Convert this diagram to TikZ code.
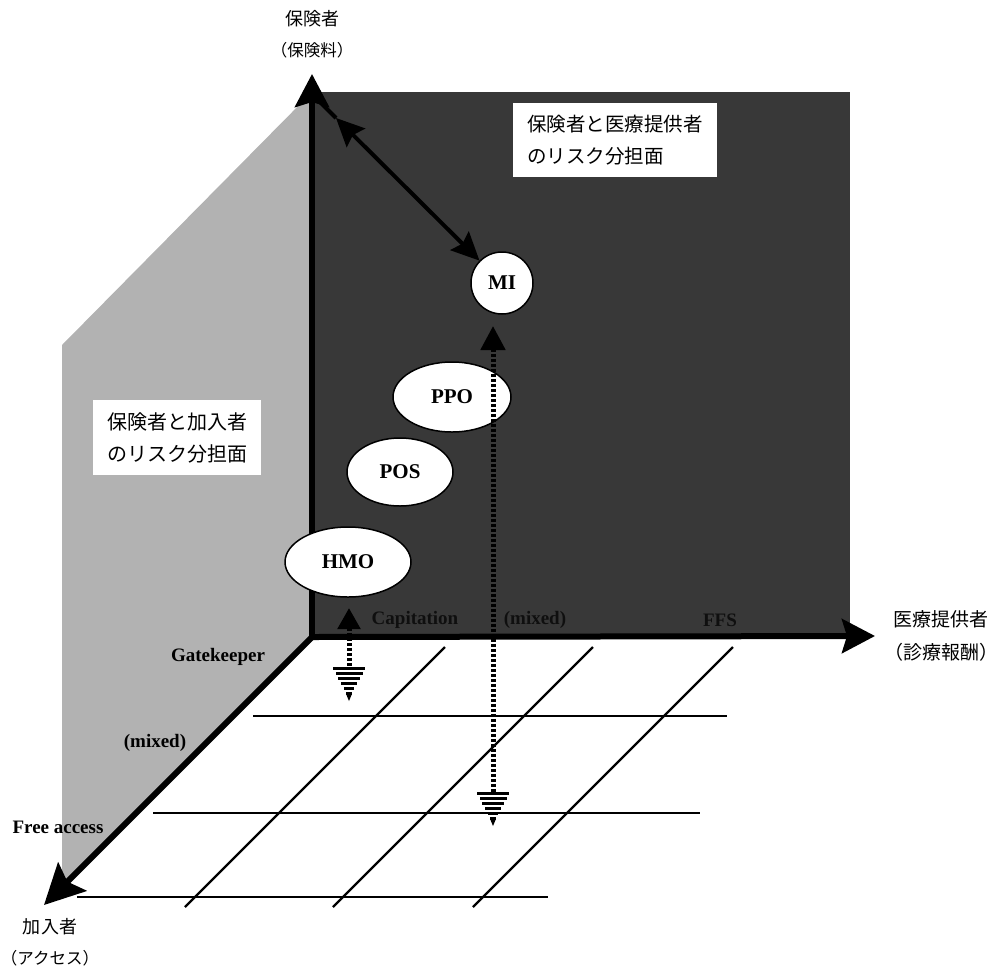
\documentclass[tikz,border=0pt]{standalone}
\usepackage{fontspec}
\setmainfont{Liberation Serif}
\newfontfamily\jp{Noto Sans CJK JP}
\usetikzlibrary{arrows.meta,shapes.geometric}
\definecolor{darkpanel}{gray}{0.22}
\definecolor{lightpanel}{gray}{0.70}
\definecolor{darktext}{gray}{0.06}
\newcommand{\stripedtip}[2]{%
  \foreach \i/\hw in {0/16,1/13.5,2/11,3/8,4/5,5/3}{
    \fill ({#1-\hw},{#2+\i*5}) rectangle ({#1+\hw},{#2+\i*5+2.8});
  }
  \fill ({#1-2.5},{#2+28}) -- ({#1+2.5},{#2+28}) -- (#1,{#2+34}) -- cycle;
}
\begin{document}
\begin{tikzpicture}[x=1pt,y=-1pt,
  axisline/.style={line width=6pt,-{Stealth[length=33pt,width=34pt,inset=5pt]}},
  plan/.style={ellipse,draw=black,line width=1.5pt,fill=white,inner sep=0pt,
    font=\bfseries\fontsize{21}{24}\selectfont},
  riskbox/.style={fill=white,inner xsep=14pt,inner ysep=12pt,align=left,anchor=north west,
    font=\jp\fontsize{19.5}{32}\selectfont},
  axlabel/.style={align=center,font=\jp\fontsize{18}{31}\selectfont},
  cat/.style={font=\bfseries\fontsize{19}{22}\selectfont},
  dcat/.style={font=\bfseries\fontsize{19}{22}\selectfont,text=darktext},
  gridline/.style={line width=2.4pt},
  dashline/.style={line width=5pt,dash pattern=on 3pt off 2pt},
  dbl/.style={line width=4pt}]
\useasboundingbox (0,0) rectangle (998,975);
% panels
\fill[lightpanel] (312,92) -- (62,345) -- (62,887) -- (312,637) -- cycle;
\fill[darkpanel] (312,92) rectangle (850,637);
% grid on the floor
\draw[gridline] (253,716) -- (727,716);
\draw[gridline] (153,813) -- (700,813);
\draw[gridline] (77,897) -- (548,897);
\draw[gridline] (445,647) -- (185,907);
\draw[gridline] (593,647) -- (333,907);
\draw[gridline] (733,647) -- (473,907);
% axes
\coordinate (O) at (312,637);
\coordinate (ytip) at (312,74);
\coordinate (xtip) at (875,636);
\coordinate (ztip) at (44,905);
\draw[axisline] (O) -- (ytip);
\draw[axisline] (O) -- (xtip);
\draw[axisline,-{Stealth[length=40pt,width=40pt,inset=7pt]}] (O) -- (ztip);
% axis labels
\node[axlabel] (ylab) at (312,34) {保険者\\{\fontsize{16.5}{31}\selectfont （保険料）}};
\node[axlabel,font=\jp\fontsize{19}{33}\selectfont] (xlab) at (941,636) {医療提供者\\（診療報酬）};
\node[axlabel] (zlab) at (50,942) {加入者\\{\fontsize{16.5}{31}\selectfont （アクセス）}};
% category labels
\node[cat] (gk) at (218,657) {Gatekeeper};
\node[cat] (mx) at (155,743) {(mixed)};
\node[cat] (fa) at (58,827) {Free access};
\node[dcat] (cap) at (415,620) {Capitation};
\node[dcat] (mx2) at (535,620) {(mixed)};
\node[dcat] (ffs) at (720,620) {FFS};
% boxes
\node[riskbox] (rbox) at (513,103) {保険者と医療提供者\\のリスク分担面};
\node[riskbox,font=\jp\fontsize{20}{32}\selectfont] (lbox) at (93,400) {保険者と加入者\\のリスク分担面};
% plans
\node[plan,circle,minimum size=62pt] (MI) at (502,283) {MI};
\node[plan,minimum width=118pt,minimum height=70pt] (PPO) at (452,397) {PPO};
\node[plan,minimum width=106pt,minimum height=68pt] (POS) at (400,472) {POS};
\node[plan,minimum width=126pt,minimum height=70pt] (HMO) at (348,562) {HMO};
% double arrow
\coordinate (corner) at (315,97);
\coordinate (uptip) at (336,118);
\draw[dbl] (corner) -- (uptip);
\draw[dbl,{Stealth[length=28pt,width=26pt,inset=4pt]}-{Stealth[length=28pt,width=26pt,inset=4pt]}] (uptip) -- (MI);
% dashed arrows
\coordinate (mitip) at (493,326);
\coordinate (miend) at (493,792);
\draw[dashline,{Triangle[length=24pt,width=24pt]}-] (mitip) -- (miend);
\stripedtip{493}{792}
\coordinate (hmotip) at (349,608);
\coordinate (hmoend) at (349,667);
\draw[dashline,{Triangle[length=21pt,width=22pt]}-] (hmotip) -- (hmoend);
\stripedtip{349}{667}
\end{tikzpicture}
\end{document}
